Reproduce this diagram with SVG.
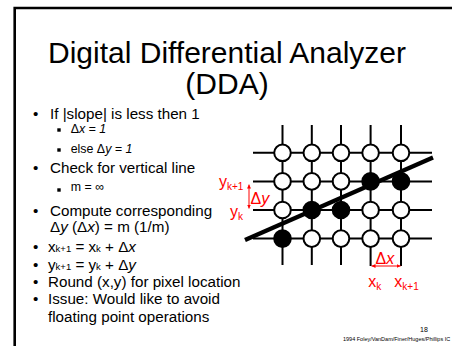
<svg xmlns="http://www.w3.org/2000/svg" width="452" height="346" viewBox="0 0 452 346">
  <style>
    text { font-family: "Liberation Sans", Arial, sans-serif; fill: #000; }
    .title { font-size: 30px; text-anchor: middle; }
    .b { font-size: 15.2px; }
    .s { font-size: 12.4px; }
    .sub { font-size: 9.5px; }
    .red { fill: #ff0000; font-size: 16px; }
    .rsub { fill: #ff0000; font-size: 10px; }
    .i { font-style: italic; }
    .grid { stroke: #000; stroke-width: 2; fill: none; }
    .pix { stroke: #000; stroke-width: 2; fill: #fff; }
    .pix.on { fill: #000; }
    .dim { stroke: #ff0000; stroke-width: 1; fill: none; }
  </style>
  <defs>
    <marker id="ah" viewBox="0 0 6 6" refX="6" refY="3" markerWidth="4" markerHeight="4" orient="auto-start-reverse">
      <path d="M0,0 L6,3 L0,6 Z" fill="#ff0000"/>
    </marker>
  </defs>

  <rect width="452" height="346" fill="#fff"/>
  <!-- slide frame -->
  <path d="M14.7,346 V8 H452" stroke="#000" stroke-width="2.6" fill="none"/>

  <!-- title -->
  <g id="title">
    <text class="title" x="227" y="63">Digital Differential Analyzer</text>
    <text class="title" x="227" y="94">(DDA)</text>
  </g>

  <!-- bullet list -->
  <g id="bullets">
    <text class="b" x="33" y="119">•</text>
    <text class="b" x="50" y="119">If |slope| is less then 1</text>
    <rect x="57.3" y="128.3" width="3.4" height="3.4"/>
    <text class="s" x="70.7" y="133">Δ<tspan class="i">x = 1</tspan></text>
    <rect x="57.3" y="148.3" width="3.4" height="3.4"/>
    <text class="s" x="70.7" y="153">else Δ<tspan class="i">y = 1</tspan></text>
    <text class="b" x="33" y="173">•</text>
    <text class="b" x="50" y="173">Check for vertical line</text>
    <rect x="57.3" y="188.3" width="3.4" height="3.4"/>
    <text class="s" x="70.7" y="191">m = ∞</text>
    <text class="b" x="33" y="215.5">•</text>
    <text class="b" x="50" y="215.5">Compute corresponding</text>
    <text class="b" x="50" y="231.5">Δ<tspan class="i">y</tspan> (Δ<tspan class="i">x</tspan>) = m (1/m)</text>
    <text class="b" x="33" y="252">•</text>
    <text class="b" x="48" y="252">x<tspan class="sub">k+1</tspan> = x<tspan class="sub">k</tspan> + Δ<tspan class="i">x</tspan></text>
    <text class="b" x="33" y="270">•</text>
    <text class="b" x="48" y="270">y<tspan class="sub">k+1</tspan> = y<tspan class="sub">k</tspan> + Δ<tspan class="i">y</tspan></text>
    <text class="b" x="33" y="287">•</text>
    <text class="b" x="48" y="287">Round (x,y) for pixel location</text>
    <text class="b" x="33" y="304">•</text>
    <text class="b" x="48" y="304">Issue: Would like to avoid</text>
    <text class="b" x="48" y="322">floating point operations</text>
  </g>

  <!-- pixel grid: scan lines and columns -->
  <g id="connectors">
    <path class="grid" d="M253,152.8 H432 M253,181.4 H432 M253,210 H432 M253,238.6 H432"/>
    <path class="grid" d="M282.5,125 V265 M311.8,125 V265 M341,125 V265 M370.6,125 V266 M401,125 V266"/>
  </g>

  <!-- pixel centres -->
  <g id="pixels">
    <g id="row1">
      <circle class="pix" cx="282.5" cy="152.8" r="8.3"/>
      <circle class="pix" cx="311.8" cy="152.8" r="8.3"/>
      <circle class="pix" cx="341" cy="152.8" r="8.3"/>
      <circle class="pix" cx="370.6" cy="152.8" r="8.3"/>
      <circle class="pix" cx="401" cy="152.8" r="8.3"/>
    </g>
    <g id="row2">
      <circle class="pix" cx="282.5" cy="181.4" r="8.3"/>
      <circle class="pix" cx="311.8" cy="181.4" r="8.3"/>
      <circle class="pix" cx="341" cy="181.4" r="8.3"/>
      <circle class="pix on" cx="370.6" cy="181.4" r="8.3"/>
      <circle class="pix on" cx="401" cy="181.4" r="8.3"/>
    </g>
    <g id="row3">
      <circle class="pix" cx="282.5" cy="210" r="8.3"/>
      <circle class="pix on" cx="311.8" cy="210" r="8.3"/>
      <circle class="pix on" cx="341" cy="210" r="8.3"/>
      <circle class="pix" cx="370.6" cy="210" r="8.3"/>
      <circle class="pix" cx="401" cy="210" r="8.3"/>
    </g>
    <g id="row4">
      <circle class="pix on" cx="282.5" cy="238.6" r="8.3"/>
      <circle class="pix" cx="311.8" cy="238.6" r="8.3"/>
      <circle class="pix" cx="341" cy="238.6" r="8.3"/>
      <circle class="pix" cx="370.6" cy="238.6" r="8.3"/>
      <circle class="pix" cx="401" cy="238.6" r="8.3"/>
    </g>
  </g>

  <!-- ideal line -->
  <g id="line">
    <path d="M245,240 L433,157.5" stroke="#000" stroke-width="4.2"/>
  </g>

  <!-- red dimension annotations -->
  <g id="dim-y">
    <path class="dim" d="M249,184.5 V208.5" marker-start="url(#ah)" marker-end="url(#ah)"/>
    <text class="red" x="219" y="186.6">y<tspan class="rsub" dy="3.4">k+1</tspan></text>
    <text class="red" x="250.5" y="204">Δ<tspan class="i">y</tspan></text>
    <text class="red" x="230" y="216.6">y<tspan class="rsub" dy="3.4">k</tspan></text>
  </g>
  <g id="dim-x">
    <path class="dim" d="M371.5,266 H400.5" marker-start="url(#ah)" marker-end="url(#ah)"/>
    <text class="red" x="375.5" y="264">Δ<tspan class="i">x</tspan></text>
    <text class="red" x="368.3" y="287.3">x<tspan class="rsub" dy="2.7">k</tspan></text>
    <text class="red" x="394.3" y="287.3">x<tspan class="rsub" dy="2.7">k+1</tspan></text>
  </g>

  <!-- footer -->
  <text x="420" y="332" font-size="7">18</text>
  <text x="343" y="341" font-size="5.5">1994 Foley/VanDam/Finer/Huges/Phillips IC</text>
</svg>
